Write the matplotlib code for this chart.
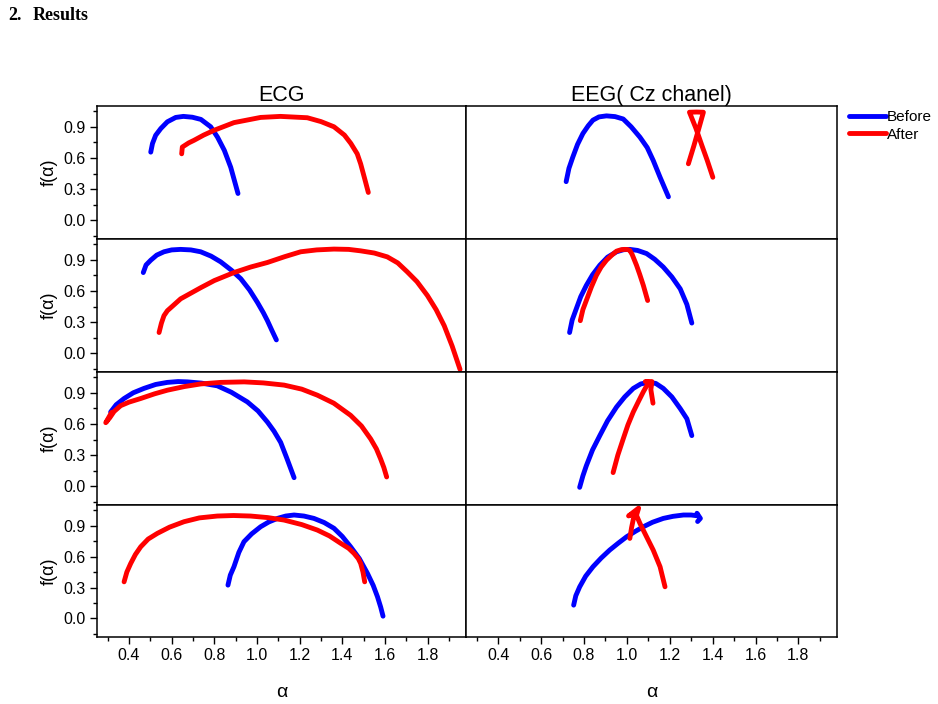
import matplotlib
matplotlib.use("Agg")
import matplotlib.pyplot as plt
from matplotlib.ticker import MultipleLocator
from matplotlib.lines import Line2D

plt.rcParams['font.family'] = ['Liberation Sans', 'DejaVu Sans']

# ---------------- data (alpha, f(alpha)) ----------------
# ECG row 1
ecg1_before_a = [0.502, 0.510, 0.525, 0.549, 0.580, 0.619, 0.655, 0.697, 0.737, 0.783, 0.815, 0.847, 0.877, 0.911]
ecg1_before_f = [0.656, 0.738, 0.818, 0.883, 0.948, 0.990, 1.000, 0.992, 0.971, 0.900, 0.800, 0.673, 0.510, 0.258]
ecg1_after_a = [0.647, 0.650, 0.680, 0.705, 0.750, 0.800, 0.892, 1.017, 1.110, 1.236, 1.300, 1.361, 1.410, 1.440, 1.470, 1.486, 1.505, 1.522]
ecg1_after_f = [0.640, 0.705, 0.745, 0.770, 0.820, 0.867, 0.940, 0.990, 1.000, 0.987, 0.950, 0.900, 0.820, 0.740, 0.640, 0.544, 0.400, 0.268]
# EEG row 1
eeg1_before_a = [0.717, 0.730, 0.748, 0.770, 0.795, 0.820, 0.842, 0.870, 0.905, 0.945, 0.983, 1.020, 1.061, 1.095, 1.123, 1.155, 1.194]
eeg1_before_f = [0.372, 0.500, 0.608, 0.730, 0.835, 0.910, 0.964, 0.995, 1.005, 0.998, 0.975, 0.900, 0.800, 0.700, 0.576, 0.414, 0.226]
eeg1_after_a = [1.287, 1.313, 1.336, 1.357, 1.325, 1.292, 1.322, 1.350, 1.375, 1.401]
eeg1_after_f = [0.544, 0.720, 0.886, 1.040, 1.042, 1.040, 0.886, 0.720, 0.576, 0.414]
# ECG row 2
ecg2_before_a = [0.467, 0.480, 0.502, 0.530, 0.564, 0.600, 0.642, 0.690, 0.736, 0.785, 0.830, 0.880, 0.924, 0.965, 1.002, 1.030, 1.049, 1.070, 1.091]
ecg2_before_f = [0.777, 0.850, 0.896, 0.945, 0.977, 0.995, 1.000, 0.995, 0.977, 0.935, 0.880, 0.800, 0.718, 0.610, 0.490, 0.390, 0.314, 0.220, 0.129]
ecg2_after_a = [0.541, 0.552, 0.564, 0.580, 0.603, 0.642, 0.700, 0.736, 0.800, 0.892, 0.970, 1.049, 1.130, 1.205, 1.280, 1.361,
                1.430, 1.486, 1.550, 1.611, 1.660, 1.705, 1.750, 1.799, 1.840, 1.878, 1.915, 1.952]
ecg2_after_f = [0.200, 0.290, 0.362, 0.410, 0.452, 0.524, 0.590, 0.631, 0.700, 0.777, 0.830, 0.874, 0.930, 0.977, 0.995, 1.003,
                1.000, 0.986, 0.965, 0.928, 0.870, 0.783, 0.690, 0.556, 0.420, 0.265, 0.070, -0.155]
# EEG row 2
eeg2_before_a = [0.733, 0.745, 0.764, 0.785, 0.811, 0.840, 0.874, 0.910, 0.952, 0.985, 1.014, 1.050, 1.092, 1.130, 1.170, 1.210, 1.249, 1.280, 1.303]
eeg2_before_f = [0.200, 0.320, 0.427, 0.545, 0.653, 0.755, 0.848, 0.925, 0.977, 0.997, 1.000, 0.990, 0.960, 0.905, 0.830, 0.735, 0.620, 0.470, 0.291]
eeg2_after_a = [0.783, 0.795, 0.811, 0.835, 0.858, 0.880, 0.905, 0.930, 0.952, 0.975, 0.991, 1.005, 1.014, 1.025, 1.045, 1.060, 1.077, 1.097]
eeg2_after_f = [0.314, 0.420, 0.508, 0.640, 0.750, 0.830, 0.896, 0.945, 0.983, 0.998, 1.000, 0.998, 0.990, 0.950, 0.848, 0.760, 0.653, 0.508]
# ECG row 3
ecg3_before_a = [0.314, 0.340, 0.377, 0.420, 0.470, 0.525, 0.580, 0.630, 0.674, 0.740, 0.814, 0.880, 0.955, 1.005, 1.049, 1.080, 1.111, 1.140, 1.174]
ecg3_before_f = [0.715, 0.785, 0.845, 0.900, 0.942, 0.980, 1.000, 1.008, 1.005, 0.993, 0.967, 0.905, 0.812, 0.725, 0.618, 0.530, 0.423, 0.270, 0.083]
ecg3_after_a = [0.318, 0.291, 0.310, 0.330, 0.361, 0.400, 0.455, 0.520, 0.580, 0.660, 0.736, 0.830, 0.940, 1.030, 1.127, 1.210,
                1.283, 1.360, 1.439, 1.490, 1.533, 1.560, 1.580, 1.595, 1.608]
ecg3_after_f = [0.710, 0.612, 0.660, 0.720, 0.776, 0.810, 0.845, 0.890, 0.925, 0.960, 0.985, 1.000, 1.005, 0.995, 0.974, 0.935,
                0.877, 0.800, 0.683, 0.580, 0.456, 0.360, 0.262, 0.180, 0.090]
# EEG row 3
eeg3_before_a = [0.780, 0.795, 0.811, 0.840, 0.874, 0.910, 0.952, 0.990, 1.030, 1.065, 1.100, 1.135, 1.170, 1.210, 1.249, 1.280, 1.303]
eeg3_before_f = [-0.010, 0.100, 0.197, 0.350, 0.488, 0.630, 0.763, 0.860, 0.942, 0.985, 1.000, 0.990, 0.942, 0.860, 0.748, 0.650, 0.488]
eeg3_after_a = [0.936, 0.958, 0.983, 1.005, 1.030, 1.055, 1.077, 1.092, 1.105, 1.086, 1.117, 1.112, 1.122]
eeg3_after_f = [0.132, 0.300, 0.456, 0.590, 0.715, 0.820, 0.910, 0.965, 1.000, 1.008, 1.008, 0.930, 0.800]
# ECG row 4
ecg4_before_a = [0.864, 0.875, 0.892, 0.915, 0.939, 0.975, 1.017, 1.055, 1.096, 1.135, 1.174, 1.220, 1.267, 1.315, 1.361, 1.400,
                 1.439, 1.480, 1.518, 1.545, 1.565, 1.580, 1.591]
ecg4_before_f = [0.323, 0.420, 0.501, 0.640, 0.744, 0.820, 0.889, 0.935, 0.970, 0.993, 1.003, 0.993, 0.970, 0.930, 0.874, 0.795,
                 0.695, 0.580, 0.437, 0.320, 0.210, 0.110, 0.022]
ecg4_after_a = [0.377, 0.390, 0.408, 0.430, 0.455, 0.490, 0.533, 0.590, 0.658, 0.730, 0.814, 0.890, 0.970, 1.050, 1.127, 1.210,
                1.283, 1.340, 1.393, 1.430, 1.455, 1.475, 1.486, 1.497, 1.505]
ecg4_after_f = [0.355, 0.450, 0.533, 0.620, 0.695, 0.770, 0.825, 0.885, 0.938, 0.975, 0.993, 0.998, 0.993, 0.978, 0.954, 0.910,
                0.857, 0.800, 0.728, 0.680, 0.631, 0.580, 0.534, 0.450, 0.355]
# EEG row 4
eeg4_before_a = [0.752, 0.762, 0.780, 0.808, 0.842, 0.880, 0.920, 0.960, 0.999, 1.040, 1.077, 1.120, 1.170, 1.215, 1.264, 1.300,
                 1.330, 1.327, 1.343, 1.330]
eeg4_before_f = [0.129, 0.220, 0.306, 0.410, 0.501, 0.585, 0.663, 0.730, 0.792, 0.845, 0.889, 0.933, 0.970, 0.990, 1.003, 1.003,
                 0.995, 1.020, 0.970, 0.940]
eeg4_after_a = [1.014, 1.022, 1.030, 1.036, 1.008, 1.055, 1.045, 1.061, 1.092, 1.123, 1.155, 1.178]
eeg4_after_f = [0.776, 0.880, 0.960, 1.020, 0.994, 1.070, 1.000, 0.922, 0.792, 0.663, 0.501, 0.307]

column_titles = ["ECG", "EEG( Cz chanel)"]
series_labels = ["Before", "After"]
xticks = [0.4, 0.6, 0.8, 1.0, 1.2, 1.4, 1.6, 1.8]
yticks = [0.0, 0.3, 0.6, 0.9]

panels = [
    [(ecg1_before_a, ecg1_before_f, ecg1_after_a, ecg1_after_f), (eeg1_before_a, eeg1_before_f, eeg1_after_a, eeg1_after_f)],
    [(ecg2_before_a, ecg2_before_f, ecg2_after_a, ecg2_after_f), (eeg2_before_a, eeg2_before_f, eeg2_after_a, eeg2_after_f)],
    [(ecg3_before_a, ecg3_before_f, ecg3_after_a, ecg3_after_f), (eeg3_before_a, eeg3_before_f, eeg3_after_a, eeg3_after_f)],
    [(ecg4_before_a, ecg4_before_f, ecg4_after_a, ecg4_after_f), (eeg4_before_a, eeg4_before_f, eeg4_after_a, eeg4_after_f)],
]

BLUE = '#0000ff'
RED = '#ff0000'
LW = 3.5

W, H = 938, 704
fig = plt.figure(figsize=(W / 100, H / 100), dpi=100)

col_x = [(97, 369), (466, 371)]
row_top = [106, 239, 372, 505]
row_h = 133

for r in range(4):
    for c in range(2):
        x0, w = col_x[c]
        top = row_top[r]
        h = row_h if r < 3 else 132
        ax = fig.add_axes([x0 / W, 1 - (top + h) / H, w / W, h / H])
        ba, bf, aa, af = panels[r][c]
        ax.plot(ba, bf, color=BLUE, lw=LW, solid_capstyle='round', solid_joinstyle='round')
        ax.plot(aa, af, color=RED, lw=LW, solid_capstyle='round', solid_joinstyle='round')
        ax.set_xlim(0.25, 1.98)
        ax.set_ylim(-0.18, 1.10)
        for s in ax.spines.values():
            s.set_linewidth(1.1)
            s.set_color('black')
        ax.tick_params(axis='both', which='both', direction='out', width=1.0, top=False, right=False)
        ax.tick_params(axis='both', which='major', length=5, labelsize=11.5, pad=3)
        ax.tick_params(axis='both', which='minor', length=3)
        if r == 3:
            ax.set_xticks(xticks)
            ax.xaxis.set_minor_locator(MultipleLocator(0.1))
            ax.set_xticklabels([f"{v:.1f}" for v in xticks])
            ax.set_xlabel('α', fontsize=14, labelpad=15)
        else:
            ax.tick_params(axis='x', which='both', bottom=False, labelbottom=False)
        if c == 0:
            ax.set_yticks(yticks)
            ax.yaxis.set_minor_locator(MultipleLocator(0.15))
            ax.set_yticklabels([f"{v:.1f}" for v in yticks])
            ax.set_ylabel('f(α)', fontsize=13, labelpad=4)
        else:
            ax.tick_params(axis='y', which='both', left=False, labelleft=False)
        if r == 0:
            ax.set_title(column_titles[c], fontsize=15.5, pad=3)

handles = [Line2D([0], [0], color=BLUE, lw=LW, solid_capstyle='round'),
           Line2D([0], [0], color=RED, lw=LW, solid_capstyle='round')]
fig.legend(handles, series_labels, loc='upper left', bbox_to_anchor=(849 / W, 1 - 110 / H),
           frameon=False, borderpad=0, borderaxespad=0, handlelength=2.4, handletextpad=0.1,
           labelspacing=0.25, fontsize=11)

fig.text(8 / W, 1 - 15 / H, '2.', fontfamily=['Liberation Serif', 'DejaVu Serif'],
         fontweight='bold', fontsize=13, va='center', ha='left')
fig.text(33 / W, 1 - 15 / H, 'Results', fontfamily=['Liberation Serif', 'DejaVu Serif'],
         fontweight='bold', fontsize=13, va='center', ha='left')

fig.savefig('out.png', dpi=100)
